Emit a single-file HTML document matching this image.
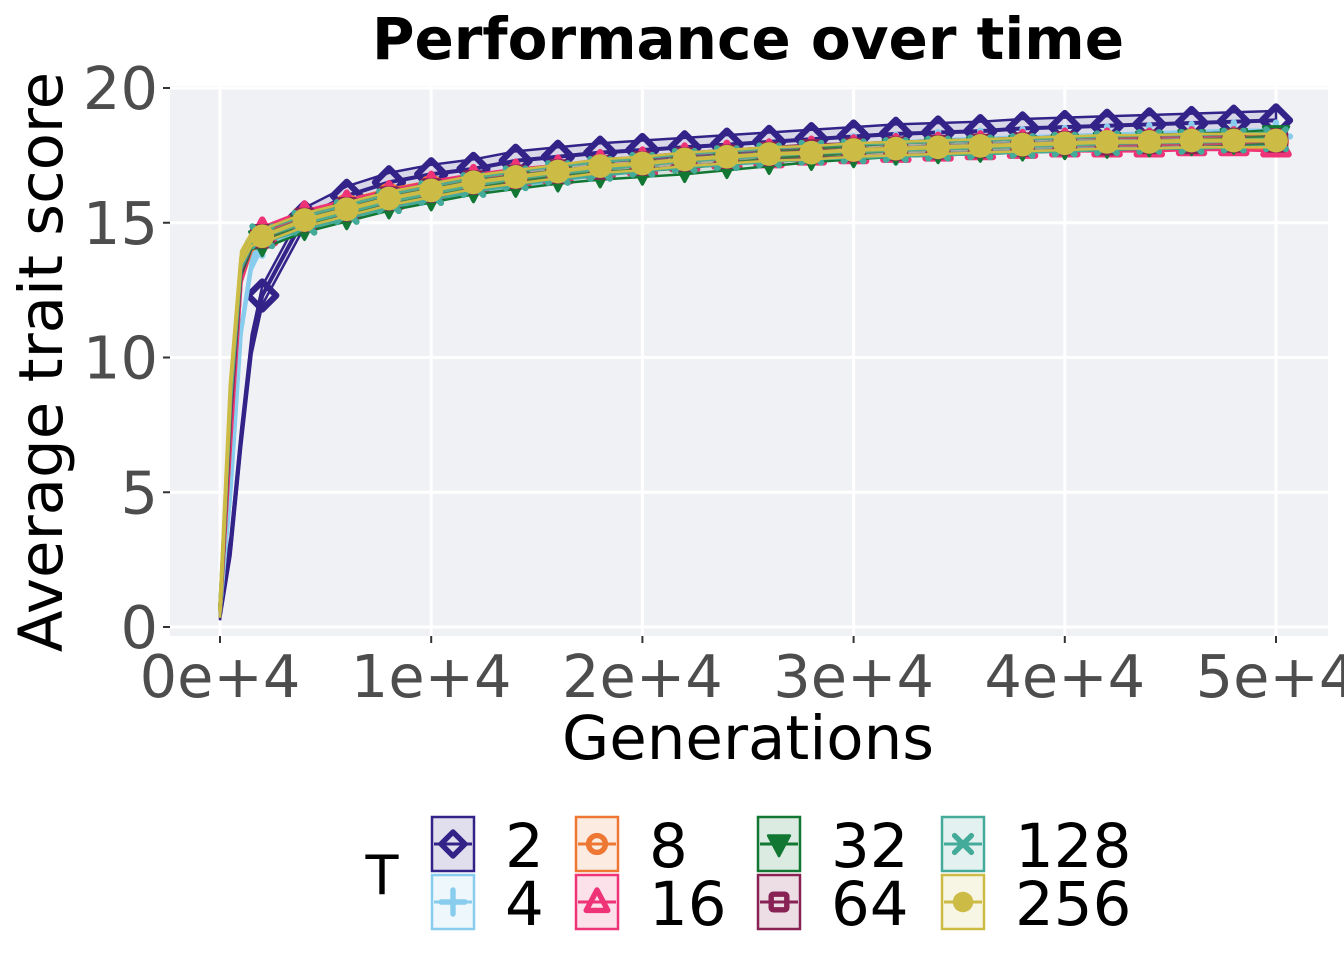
<!DOCTYPE html>
<html><head><meta charset="utf-8"><style>
body{margin:0;background:#fff;}
svg{display:block;font-family:"DejaVu Sans","Liberation Sans",sans-serif;}
</style></head><body>
<svg id="chart" width="1344" height="960" viewBox="0 0 1344 960">
<text x="748" y="59" text-anchor="middle" font-size="58" font-weight="bold">Performance over time</text>
<rect x="170" y="86" width="1158" height="550" fill="#F0F1F5"/>
<g id="grid"></g><g id="series"></g><g id="axes"></g>
<text x="748" y="759" text-anchor="middle" font-size="61">Generations</text>
<text transform="translate(62,362) rotate(-90)" text-anchor="middle" font-size="61">Average trait score</text>
<text x="382" y="894" text-anchor="middle" font-size="54">T</text>
<g id="legend"></g>
</svg>
<script>
const gens=[0,500,1000,1500,2000,4000,6000,8000,10000,12000,14000,16000,18000,20000,22000,24000,26000,28000,30000,32000,34000,36000,38000,40000,42000,44000,46000,48000,50000];
const seriesNames=["2","4","8","16","32","64","128","256"];
const v2=[0.6,3,7,10.5,12.3,15.2,16.0,16.5,16.8,17.0,17.3,17.45,17.6,17.7,17.8,17.9,18.0,18.1,18.2,18.3,18.35,18.4,18.5,18.55,18.6,18.65,18.7,18.75,18.8];
const v4=[0.6,5,11,13.5,14.3,15.0,15.4,15.8,16.1,16.4,16.6,16.8,17.0,17.15,17.3,17.4,17.5,17.6,17.7,17.75,17.85,17.9,17.95,18.0,18.05,18.1,18.15,18.2,18.2];
const v8=[0.6,7,13,14.2,14.5,15.1,15.6,16.0,16.3,16.5,16.7,16.9,17.05,17.2,17.3,17.45,17.55,17.6,17.7,17.75,17.8,17.85,17.9,17.95,17.95,18.0,18.0,18.0,18.0];
const v16=[0.6,7,13,14.3,14.6,15.2,15.6,15.95,16.3,16.55,16.75,16.9,17.1,17.2,17.35,17.45,17.5,17.6,17.65,17.7,17.75,17.8,17.85,17.9,17.9,17.9,17.95,17.95,17.9];
const v32=[0.6,8,13.3,14.3,14.3,14.9,15.3,15.7,16.0,16.3,16.5,16.7,16.85,16.95,17.05,17.2,17.35,17.5,17.6,17.7,17.75,17.8,17.85,17.9,17.95,18.0,18.05,18.1,18.2];
const v64=[0.6,8,13.4,14.4,14.5,15.1,15.5,15.9,16.2,16.5,16.7,16.9,17.05,17.2,17.35,17.45,17.55,17.65,17.7,17.75,17.8,17.85,17.9,17.95,17.95,18.0,18.0,18.05,18.05];
const v128=[0.6,8.5,13.5,14.4,14.5,15.0,15.4,15.8,16.1,16.4,16.65,16.85,17.0,17.15,17.3,17.4,17.5,17.6,17.65,17.7,17.75,17.8,17.85,17.9,17.95,18.0,18.0,18.05,18.1];
const v256=[0.6,9,13.7,14.4,14.5,15.1,15.5,15.9,16.2,16.5,16.7,16.9,17.1,17.2,17.35,17.45,17.55,17.6,17.7,17.75,17.8,17.85,17.9,17.95,18.0,18.0,18.05,18.05,18.05];
const allValues=[v2,v4,v8,v16,v32,v64,v128,v256];
const colors=["#332288","#88CCEE","#EE7733","#EE3377","#117733","#882255","#44AA99","#CCBB44"];
const shapes=["diamond","plus","circle","triangle","tridown","square","cross","dot"];
const xTicks=[0,10000,20000,30000,40000,50000];
const xTickLabels=["0e+4","1e+4","2e+4","3e+4","4e+4","5e+4"];
const yTicks=[0,5,10,15,20];
const yTickLabels=["0","5","10","15","20"];

const NS="http://www.w3.org/2000/svg";
const xs=g=>220+g*(1276-220)/50000;
const ys=v=>627-v*(627-88)/20;
function mk(tag,attrs,parent){const e=document.createElementNS(NS,tag);for(const k in attrs)e.setAttribute(k,attrs[k]);parent.appendChild(e);return e;}
const grid=document.getElementById("grid"),axes=document.getElementById("axes"),ser=document.getElementById("series"),leg=document.getElementById("legend");
xTicks.forEach((t,i)=>{
 const l=mk("line",{x1:xs(t),x2:xs(t),y1:86,y2:636,stroke:"#fff","stroke-width":3},grid);
 
 
 const k=mk("line",{x1:xs(t),x2:xs(t),y1:636,y2:643,stroke:"#333","stroke-width":2},axes);
 
 
 const tx=mk("text",{x:xs(t),y:697,"text-anchor":"middle","font-size":59,fill:"#4d4d4d"},axes);
 tx.textContent=xTickLabels[i];
 
 
});
yTicks.forEach((t,i)=>{
 const l=mk("line",{x1:170,x2:1328,y1:ys(t),y2:ys(t),stroke:"#fff","stroke-width":3},grid);
 
 
 const k=mk("line",{x1:163,x2:170,y1:ys(t),y2:ys(t),stroke:"#333","stroke-width":2},axes);
 
 
 const tx=mk("text",{x:158,y:ys(t)+21,"text-anchor":"end","font-size":59,fill:"#4d4d4d"},axes);
 tx.textContent=yTickLabels[i];
 
 
});
function marker(shape,cx,cy,c,s,parent){
 const g=mk("g",{},parent);
 const sw=s*0.45;
 if(shape==="diamond")mk("polygon",{points:`${cx},${cy-s} ${cx+s},${cy} ${cx},${cy+s} ${cx-s},${cy}`,fill:"none",stroke:c,"stroke-width":sw,"stroke-linejoin":"round"},g);
 else if(shape==="plus"){mk("path",{d:`M${cx-s} ${cy}H${cx+s}M${cx} ${cy-s}V${cy+s}`,stroke:c,"stroke-width":sw,"stroke-linecap":"round"},g);}
 else if(shape==="circle")mk("circle",{cx:cx,cy:cy,r:s*0.7,fill:"none",stroke:c,"stroke-width":sw},g);
 else if(shape==="triangle")mk("polygon",{points:`${cx},${cy-s} ${cx+s*0.9},${cy+s*0.7} ${cx-s*0.9},${cy+s*0.7}`,fill:"none",stroke:c,"stroke-width":sw,"stroke-linejoin":"round"},g);
 else if(shape==="tridown")mk("polygon",{points:`${cx},${cy+s} ${cx+s*0.9},${cy-s*0.7} ${cx-s*0.9},${cy-s*0.7}`,fill:c,stroke:c,"stroke-width":sw*0.5,"stroke-linejoin":"round"},g);
 else if(shape==="square")mk("rect",{x:cx-s*0.65,y:cy-s*0.65,width:s*1.3,height:s*1.3,fill:"none",stroke:c,"stroke-width":sw,rx:2},g);
 else if(shape==="cross")mk("path",{d:`M${cx-s*0.7} ${cy-s*0.7}L${cx+s*0.7} ${cy+s*0.7}M${cx+s*0.7} ${cy-s*0.7}L${cx-s*0.7} ${cy+s*0.7}`,stroke:c,"stroke-width":sw,"stroke-linecap":"round"},g);
 else mk("circle",{cx:cx,cy:cy,r:s*0.85,fill:c},g);
 return g;
}
allValues.forEach((vals,si)=>{
 const c=colors[si];
 const g=mk("g",{},ser);
 
 
 const w=si===0?0.35:0.25;
 const up=vals.map((v,i)=>`${xs(gens[i])},${ys(v+w)}`);
 const lo=vals.map((v,i)=>`${xs(gens[i])},${ys(v-w)}`).reverse();
 const band=mk("polygon",{points:up.concat(lo).join(" "),fill:c,"fill-opacity":0.12,stroke:c,"stroke-width":2.5},g);
 
 
 const ln=mk("polyline",{points:vals.map((v,i)=>`${xs(gens[i])},${ys(v)}`).join(" "),fill:"none",stroke:c,"stroke-width":4},g);
 
 
 vals.forEach((v,i)=>{
  if(gens[i]<2000||gens[i]%2000!==0)return;
  const m=marker(shapes[si],xs(gens[i]),ys(v),c,14,g);
  
  
 });
});
const legX=[432,576,758,942],legY=[817,875];
seriesNames.forEach((n,i)=>{
 const col=Math.floor(i/2),row=i%2;
 const x=legX[col],y=legY[row],c=colors[i];
 const g=mk("g",{},leg);
 
 
 mk("rect",{x:x,y:y,width:42,height:54,fill:c,"fill-opacity":0.15,stroke:c,"stroke-width":2.5},g);
 mk("line",{x1:x+2,x2:x+40,y1:y+27,y2:y+27,stroke:c,"stroke-width":3},g);
 marker(shapes[i],x+21,y+27,c,12,g);
 const t=mk("text",{x:x+73,y:y+50,"font-size":61},g);
 t.textContent=n;
});
</script>
</body></html>
